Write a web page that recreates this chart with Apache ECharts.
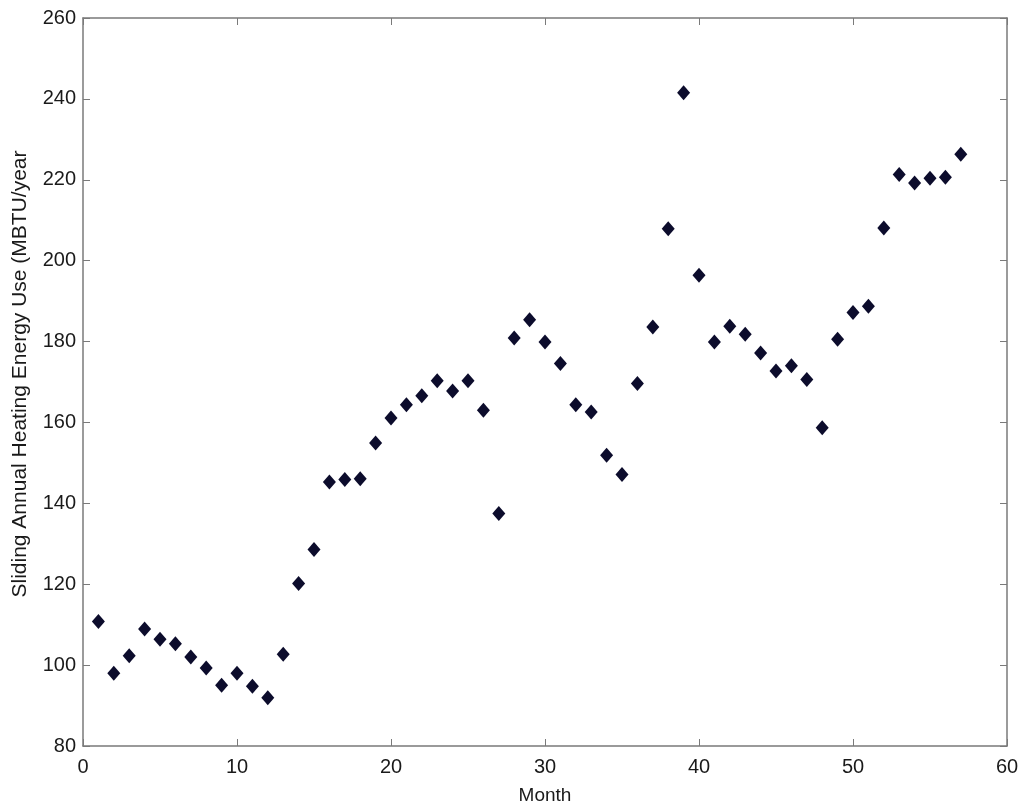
<!DOCTYPE html>
<html>
<head>
<meta charset="utf-8">
<script src="https://cdn.jsdelivr.net/npm/echarts@6/dist/echarts.min.js"></script>
<style>
  html, body { margin: 0; padding: 0; background: #fff; }
  #chart { width: 1024px; height: 806px; }
</style>
</head>
<body>
<div id="chart"></div>
<script>
  // month index and sliding annual heating energy (MBTU/year)
  const months = [1, 2, 3, 4, 5, 6, 7, 8, 9, 10, 11, 12, 13, 14, 15, 16, 17, 18, 19,
    20, 21, 22, 23, 24, 25, 26, 27, 28, 29, 30, 31, 32, 33, 34, 35, 36, 37, 38, 39,
    40, 41, 42, 43, 44, 45, 46, 47, 48, 49, 50, 51, 52, 53, 54, 55, 56, 57];
  const energy = [110.8, 98.0, 102.3, 108.9, 106.4, 105.3, 102.0, 99.3, 95.0, 98.0,
    94.8, 91.9, 102.7, 120.2, 128.6, 145.3, 145.9, 146.1, 154.9, 161.1,
    164.4, 166.6, 170.3, 167.8, 170.3, 163.0, 137.5, 180.9, 185.4, 179.9,
    174.6, 164.4, 162.6, 151.9, 147.1, 169.6, 183.6, 207.9, 241.5, 196.4,
    179.9, 183.8, 181.8, 177.2, 172.7, 174.0, 170.6, 158.7, 180.6, 187.2,
    188.7, 208.1, 221.3, 219.2, 220.4, 220.6, 226.3];

  const xTitle = 'Month';
  const yTitle = 'Sliding Annual Heating Energy Use (MBTU/year';

  const points = months.map((m, i) => [m, energy[i]]);

  const font = 'Liberation Sans, Arial, sans-serif';
  const axisGray = '#7a7a7a';

  // matlab style box: plain axes with inward ticks on every side
  function boxAxis(extra) {
    return Object.assign({
      type: 'value',
      axisLine: { show: true, onZero: false, lineStyle: { color: axisGray, width: 1.5 } },
      axisTick: { show: true, inside: true, length: 7, lineStyle: { color: axisGray } },
      splitLine: { show: false },
      axisLabel: { show: false }
    }, extra);
  }

  const myChart = echarts.init(document.getElementById('chart'));
  const option = {
    backgroundColor: '#fff',
    animation: false,
    grid: { left: 83, right: 17, top: 18, bottom: 60, outerBoundsMode: 'none', containLabel: false },
    xAxis: [
      boxAxis({
        position: 'bottom', min: 0, max: 60, interval: 10,
        name: xTitle, nameLocation: 'middle', nameGap: 40, nameMoveOverlap: false,
        nameTextStyle: { color: '#1a1a1a', fontSize: 19, fontFamily: font },
        axisLabel: { show: true, color: '#1a1a1a', fontSize: 20, fontFamily: font, margin: 11 }
      }),
      boxAxis({ position: 'top', min: 0, max: 60, interval: 10 })
    ],
    yAxis: [
      boxAxis({
        position: 'left', min: 80, max: 260, interval: 20,
        name: yTitle, nameLocation: 'middle', nameGap: 52, nameMoveOverlap: false,
        nameTextStyle: { color: '#1a1a1a', fontSize: 21, fontFamily: font, padding: [0, 0, 0, 16] },
        axisLabel: { show: true, color: '#1a1a1a', fontSize: 20, fontFamily: font, margin: 7 }
      }),
      boxAxis({ position: 'right', min: 80, max: 260, interval: 20 })
    ],
    series: [
      {
        type: 'scatter',
        data: points,
        symbol: 'diamond',
        symbolSize: [13, 15],
        itemStyle: { color: '#0c0c2c', opacity: 1 }
      }
    ]
  };
  myChart.setOption(option);
</script>
</body>
</html>
